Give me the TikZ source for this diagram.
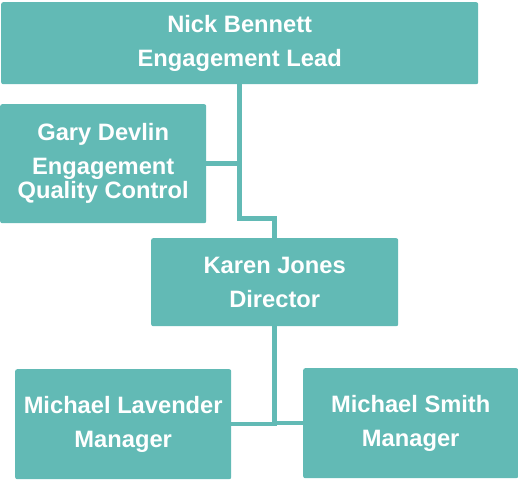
\documentclass[tikz,border=0pt]{standalone}
\usepackage{fontspec}
\setmainfont{Liberation Sans}
\usepackage{xcolor}
\usepackage{tikz}
\usetikzlibrary{backgrounds}
\definecolor{orgteal}{RGB}{98,186,181}

\begin{document}
\begin{tikzpicture}[x=1pt, y=-1pt,
		every node/.style={fill=orgteal, rounded corners=2pt, text=white, align=center, inner sep=0pt, anchor=north west,
				font=\bfseries\fontsize{23.7}{24}\selectfont, execute at begin node={\rule{0pt}{21pt}}},
		link/.style={draw=orgteal, line width=4.5pt},
	]
	\useasboundingbox (0,0) rectangle (518,480);

	\node [minimum width=477pt, minimum height=82pt] (nick) at (1,2) {Nick Bennett\\[10pt]Engagement Lead};
	\node [minimum width=206pt, minimum height=119pt] (gary) at (0,104) {Gary Devlin\\[10pt]Engagement\\Quality Control};
	\node [minimum width=247pt, minimum height=88pt] (karen) at (151,238) {Karen Jones\\[10pt]Director};
	\node [minimum width=216pt, minimum height=110pt] (lav) at (15,369) {Michael Lavender\\[10pt]Manager};
	\node [minimum width=215pt, minimum height=110pt] (smith) at (303,368) {Michael Smith\\[10pt]Manager};

	\begin{pgfonlayer}{background}
		\draw [link] (nick.south) |- (gary.east);
		\draw [link] (nick.south) -- ++(0,134) -| (karen.north);
		\draw [link] (karen.south) |- (lav.east);
		\draw [link] (smith.west) -- (smith.west -| karen.south);
	\end{pgfonlayer}
\end{tikzpicture}
\end{document}
